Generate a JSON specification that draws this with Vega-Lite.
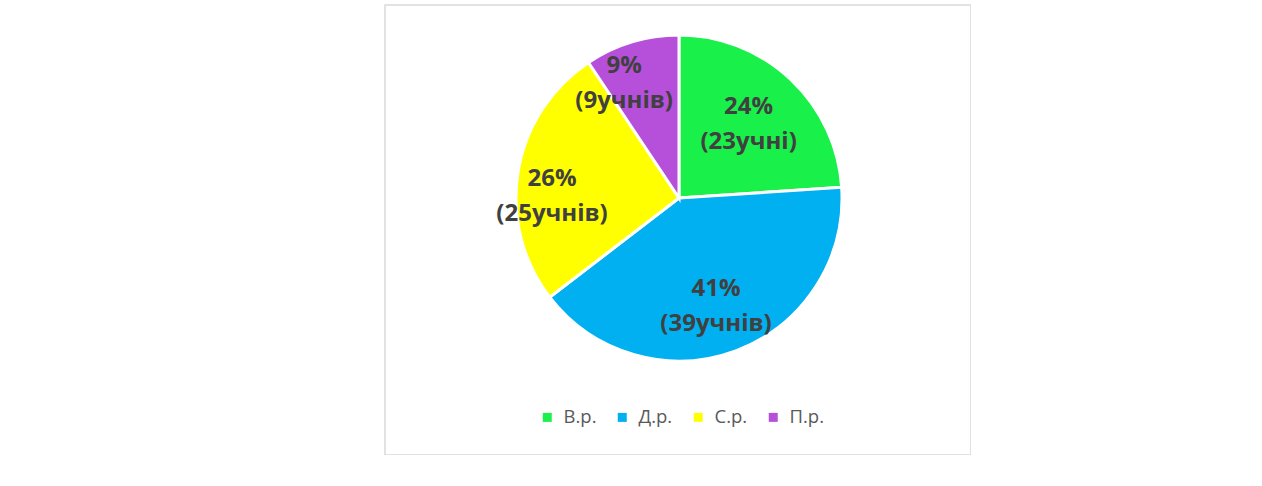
{
  "$schema": "https://vega.github.io/schema/vega-lite/v6.json",
  "autosize": "none",
  "width": 586,
  "height": 450,
  "padding": {"left": 385, "top": 5, "right": 0, "bottom": 0},
  "background": "white",
  "view": {"stroke": "#d9d9d9", "strokeWidth": 1.5, "fill": "white"},
  "config": {
    "font": "Open Sans"
  },
  "data": {
    "values": [
      {"category": "В.р.", "count": 23, "order": 1, "label": "24%\n(23учні)"},
      {"category": "Д.р.", "count": 39, "order": 2, "label": "41%\n(39учнів)"},
      {"category": "С.р.", "count": 25, "order": 3, "label": "26%\n(25учнів)"},
      {"category": "П.р.", "count": 9, "order": 4, "label": "9%\n(9учнів)"}
    ]
  },
  "transform": [
    {"stack": "count", "groupby": [], "sort": [{"field": "order", "order": "ascending"}], "as": ["start", "end"]},
    {"calculate": "(datum.start + datum.end) / 2", "as": "mid"}
  ],
  "layer": [
    {
      "mark": {"type": "arc", "outerRadius": 163, "stroke": "white", "strokeWidth": 3, "xOffset": 1, "yOffset": -32},
      "encoding": {
        "theta": {"field": "start", "type": "quantitative", "scale": {"domain": [0, 96]}},
        "theta2": {"field": "end"},
        "color": {
          "field": "category",
          "type": "nominal",
          "scale": {"domain": ["В.р.", "Д.р.", "С.р.", "П.р."], "range": ["#1AF04A", "#00B0F0", "#FFFF00", "#B650DB"]},
          "sort": ["В.р.", "Д.р.", "С.р.", "П.р."],
          "legend": {
            "title": null,
            "orient": "none",
            "direction": "horizontal",
            "legendX": 153,
            "legendY": 403,
            "padding": 0,
            "symbolType": "square",
            "symbolSize": 81,
            "symbolStrokeWidth": 0,
            "symbolOpacity": 1,
            "labelFont": "Open Sans",
            "labelFontSize": 18.5,
            "labelColor": "#595959",
            "labelOffset": 7,
            "columnPadding": 16
          }
        }
      }
    },
    {
      "transform": [{"filter": "datum.order == 1"}],
      "mark": {"type": "text", "radius": 115, "font": "Open Sans", "fontWeight": "bold", "fontSize": 24, "fill": "#404040", "lineBreak": "\n", "lineHeight": 35, "align": "center", "baseline": "middle", "xOffset": -8, "yOffset": -39},
      "encoding": {"theta": {"field": "mid", "type": "quantitative", "scale": {"domain": [0, 96]}}, "text": {"field": "label", "type": "nominal"}}
    },
    {
      "transform": [{"filter": "datum.order == 2"}],
      "mark": {"type": "text", "radius": 115, "font": "Open Sans", "fontWeight": "bold", "fontSize": 24, "fill": "#404040", "lineBreak": "\n", "lineHeight": 35, "align": "center", "baseline": "middle", "xOffset": -2.5, "yOffset": -48.5},
      "encoding": {"theta": {"field": "mid", "type": "quantitative", "scale": {"domain": [0, 96]}}, "text": {"field": "label", "type": "nominal"}}
    },
    {
      "transform": [{"filter": "datum.order == 3"}],
      "mark": {"type": "text", "radius": 115, "font": "Open Sans", "fontWeight": "bold", "fontSize": 24, "fill": "#404040", "lineBreak": "\n", "lineHeight": 35, "align": "center", "baseline": "middle", "xOffset": -12.5, "yOffset": -32},
      "encoding": {"theta": {"field": "mid", "type": "quantitative", "scale": {"domain": [0, 96]}}, "text": {"field": "label", "type": "nominal"}}
    },
    {
      "transform": [{"filter": "datum.order == 4"}],
      "mark": {"type": "text", "radius": 115, "font": "Open Sans", "fontWeight": "bold", "fontSize": 24, "fill": "#404040", "lineBreak": "\n", "lineHeight": 35, "align": "center", "baseline": "middle", "xOffset": -20.5, "yOffset": -54},
      "encoding": {"theta": {"field": "mid", "type": "quantitative", "scale": {"domain": [0, 96]}}, "text": {"field": "label", "type": "nominal"}}
    }
  ]
}
